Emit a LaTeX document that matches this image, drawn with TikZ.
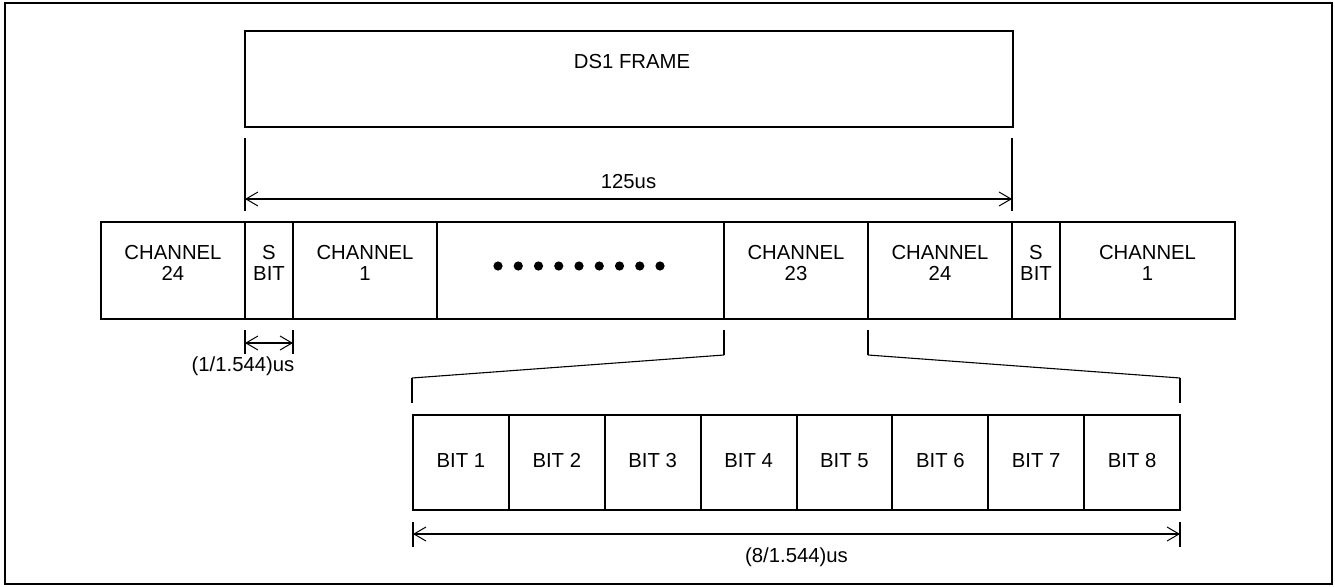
\documentclass[tikz,border=0pt]{standalone}
\usepackage{fontspec}
\setmainfont{Liberation Sans}
\usetikzlibrary{arrows.meta}
\begin{document}
\begin{tikzpicture}[x=1pt,y=-1pt,
  box/.style={draw,line width=2pt,inner sep=0pt},
  lbl/.style={font=\fontsize{20.3}{20.5}\selectfont,align=center,inner sep=0pt},
  barb/.tip={Straight Barb[length=12pt,width=14pt,line width=1pt]},
  dim/.style={line width=1.6pt,barb-barb},
  tick/.style={line width=2pt},
  slant/.style={line width=1.1pt}]
\useasboundingbox (0,0) rectangle (1335,586);
\draw[line width=2pt] (5,3) rectangle (1332,584);

% DS1 frame
\node[box,minimum width=768pt,minimum height=96pt] (frame) at (629,79) {};
\node[lbl] (frameT) at (632,62) {DS1 FRAME};

% channel row
\node[box,minimum width=144pt,minimum height=97pt] (c24a) at (173,270.5) {};
\node[box,minimum width=48pt,minimum height=97pt] (sa) at (269,270.5) {};
\node[box,minimum width=144pt,minimum height=97pt] (c1a) at (365,270.5) {};
\node[box,minimum width=287pt,minimum height=97pt] (dots) at (580.5,270.5) {};
\node[box,minimum width=144pt,minimum height=97pt] (c23) at (796,270.5) {};
\node[box,minimum width=144pt,minimum height=97pt] (c24b) at (940,270.5) {};
\node[box,minimum width=48pt,minimum height=97pt] (sb) at (1036,270.5) {};
\node[box,minimum width=175pt,minimum height=97pt] (c1b) at (1147.5,270.5) {};

\node[lbl] (t24a) at (173,263) {CHANNEL\\24};
\node[lbl] (tsa) at (269,263) {S\\BIT};
\node[lbl] (t1a) at (365,263) {CHANNEL\\1};
\node[lbl] (t23) at (796,263) {CHANNEL\\23};
\node[lbl] (t24b) at (940,263) {CHANNEL\\24};
\node[lbl] (tsb) at (1036,263) {S\\BIT};
\node[lbl] (t1b) at (1147.5,263) {CHANNEL\\1};

\foreach \i in {0,...,8} {
  \fill (498+20.25*\i,266) circle (4.6pt);
}

% bits row
\foreach \i in {1,...,8} {
  \node[box,minimum width=95.875pt,minimum height=95pt] (b\i) at ({413+95.875*(\i-0.5)},462.5) {};
  \node[lbl,anchor=base] (bt\i) at ({413+95.875*(\i-0.5)},467) {BIT \i};
}

% 125us dimension
\coordinate (f1a) at (245,138); \coordinate (f1b) at (245,211);
\coordinate (f2a) at (1012,138); \coordinate (f2b) at (1012,211);
\draw[tick] (f1a) -- (f1b);
\draw[tick] (f2a) -- (f2b);
\coordinate (f1m) at (245,199); \coordinate (f2m) at (1012,199);
\draw[dim] (f1m) -- (f2m);
\node[lbl] (t125) at (628.5,182) {125us};

% S bit dimension
\coordinate (s1a) at (245,330); \coordinate (s1b) at (245,354);
\coordinate (s2a) at (293,330); \coordinate (s2b) at (293,354);
\draw[tick] (s1a) -- (s1b);
\draw[tick] (s2a) -- (s2b);
\coordinate (s1m) at (245,343); \coordinate (s2m) at (293,343);
\draw[dim] (s1m) -- (s2m);
\node[lbl] (tsdim) at (243,366) {(1/1.544)us};

% expansion lines
\coordinate (e1a) at (724,330); \coordinate (e1b) at (724,355);
\coordinate (e2a) at (868,330); \coordinate (e2b) at (868,355);
\coordinate (e3a) at (412,378); \coordinate (e3b) at (412,403);
\coordinate (e4a) at (1180,378); \coordinate (e4b) at (1180,403);
\draw[tick] (e1a) -- (e1b);
\draw[tick] (e2a) -- (e2b);
\draw[tick] (e3a) -- (e3b);
\draw[tick] (e4a) -- (e4b);
\draw[slant] (e1b) -- (e3a);
\draw[slant] (e2b) -- (e4a);

% 8 bits dimension
\coordinate (d1a) at (413,522); \coordinate (d1b) at (413,547);
\coordinate (d2a) at (1180,522); \coordinate (d2b) at (1180,547);
\draw[tick] (d1a) -- (d1b);
\draw[tick] (d2a) -- (d2b);
\coordinate (d1m) at (413,534); \coordinate (d2m) at (1180,534);
\draw[dim] (d1m) -- (d2m);
\node[lbl] (t8dim) at (796.5,557) {(8/1.544)us};
\end{tikzpicture}
\end{document}
